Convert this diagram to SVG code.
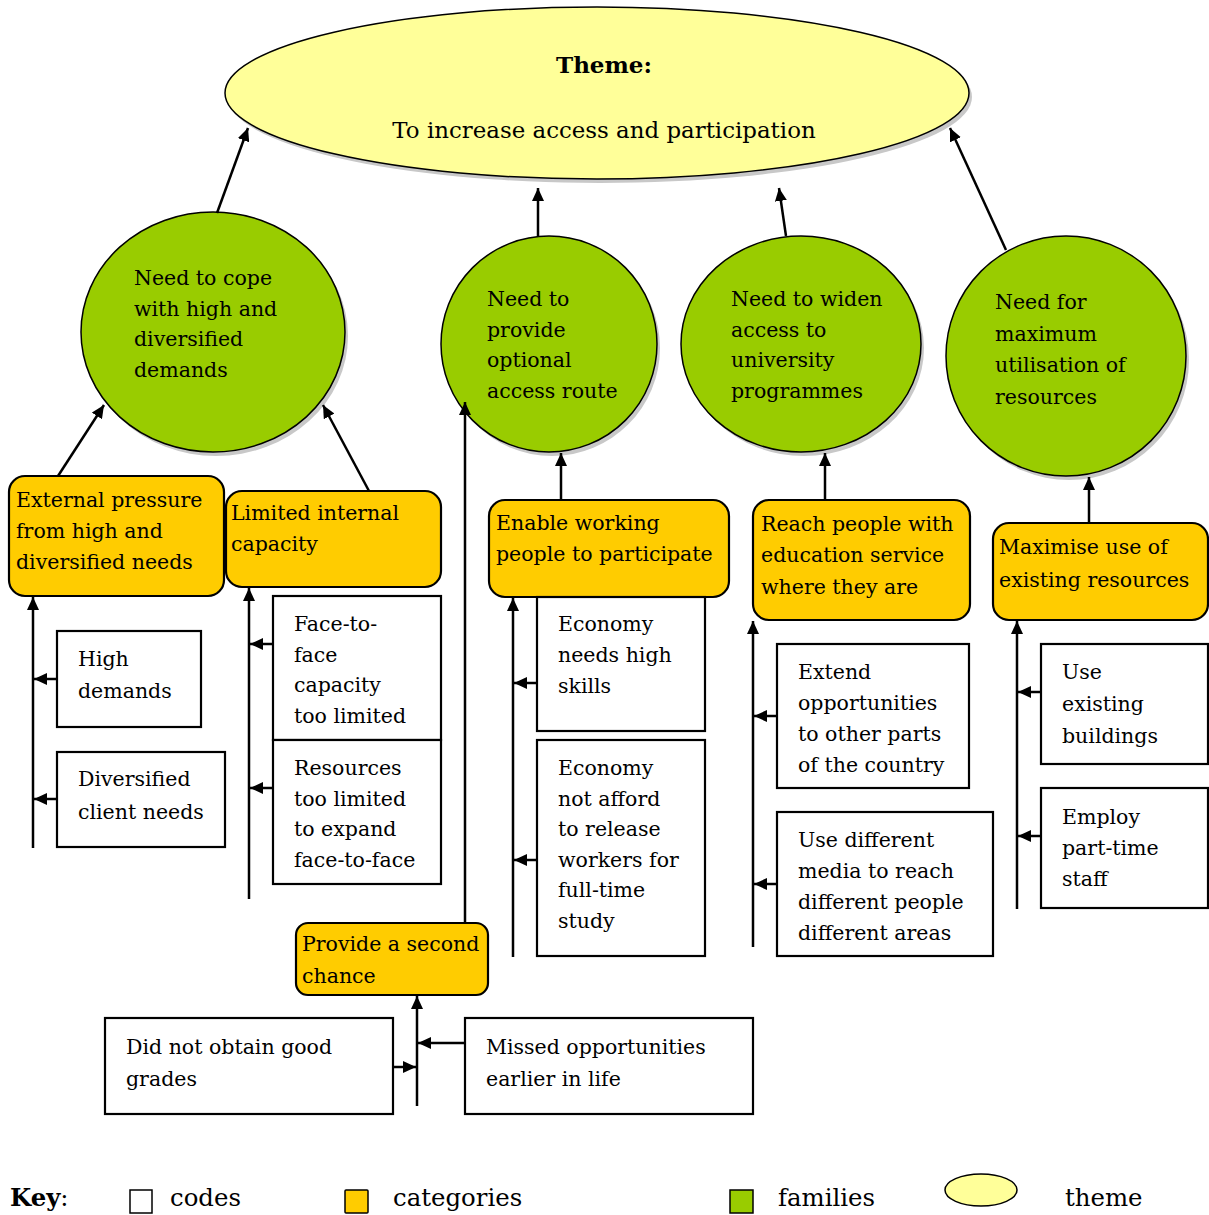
<svg xmlns="http://www.w3.org/2000/svg" width="1209" height="1215" viewBox="0 0 1209 1215">
  <defs>
    <marker id="arrow" markerWidth="13" markerHeight="12" refX="13" refY="6" orient="auto" markerUnits="userSpaceOnUse">
      <path d="M0,0 L13,6 L0,12 z" fill="#000"/>
    </marker>
    <style>
      text { font-family: "DejaVu Serif", "Liberation Serif", serif; font-size: 20.5px; fill: #000; }
      .theme { fill: #FFFF99; stroke: #000; stroke-width: 1.5; }
      .family { fill: #99CC00; stroke: #000; stroke-width: 1.5; }
      .shadow { fill: #C8C8C8; stroke: none; }
      .category { fill: #FFCC00; stroke: #000; stroke-width: 2.2; }
      .code { fill: #FFFFFF; stroke: #000; stroke-width: 2.2; }
      .link { stroke: #000; stroke-width: 2.5; fill: none; marker-end: url(#arrow); }
      .key { font-size: 24.4px; }
    </style>
  </defs>

  <rect width="1209" height="1215" fill="#FFFFFF"/>

  <!-- theme -->
  <g id="theme">
    <ellipse class="shadow" cx="600" cy="97" rx="372" ry="86"/>
    <ellipse class="theme" cx="597" cy="93" rx="372" ry="86"/>
    <text x="604" y="73" text-anchor="middle" font-weight="bold" style="font-size:23px">Theme:</text>
    <text x="604" y="138" text-anchor="middle" style="font-size:22.9px">To increase access and participation</text>
  </g>

  <!-- families -->
  <g id="family-cope">
    <ellipse class="shadow" cx="216" cy="336" rx="132" ry="120"/>
    <ellipse class="family" cx="213" cy="332" rx="132" ry="120"/>
    <text x="134" y="285">Need to cope<tspan x="134" dy="30.5">with high and</tspan><tspan x="134" dy="30.5">diversified</tspan><tspan x="134" dy="30.5">demands</tspan></text>
  </g>
  <g id="family-route">
    <ellipse class="shadow" cx="552" cy="348" rx="108" ry="108"/>
    <ellipse class="family" cx="549" cy="344" rx="108" ry="108"/>
    <text x="487" y="306">Need to<tspan x="487" dy="30.5">provide</tspan><tspan x="487" dy="30.5">optional</tspan><tspan x="487" dy="30.5">access route</tspan></text>
  </g>
  <g id="family-widen">
    <ellipse class="shadow" cx="804" cy="348" rx="120" ry="108"/>
    <ellipse class="family" cx="801" cy="344" rx="120" ry="108"/>
    <text x="731" y="306">Need to widen<tspan x="731" dy="30.5">access to</tspan><tspan x="731" dy="30.5">university</tspan><tspan x="731" dy="30.5">programmes</tspan></text>
  </g>
  <g id="family-resources">
    <ellipse class="shadow" cx="1069" cy="360" rx="120" ry="120"/>
    <ellipse class="family" cx="1066" cy="356" rx="120" ry="120"/>
    <text x="995" y="309">Need for<tspan x="995" dy="31.5">maximum</tspan><tspan x="995" dy="31.5">utilisation of</tspan><tspan x="995" dy="32">resources</tspan></text>
  </g>

  <!-- categories -->
  <g id="cat-external">
    <rect class="category" x="9" y="476" width="215" height="120" rx="16"/>
    <text x="16" y="507">External pressure<tspan x="16" dy="31">from high and</tspan><tspan x="16" dy="31">diversified needs</tspan></text>
  </g>
  <g id="cat-internal">
    <rect class="category" x="226" y="491" width="215" height="96" rx="16"/>
    <text x="231" y="520">Limited internal<tspan x="231" dy="31">capacity</tspan></text>
  </g>
  <g id="cat-working">
    <rect class="category" x="489" y="500" width="240" height="97" rx="16"/>
    <text x="496" y="530">Enable working<tspan x="496" dy="30.5">people to participate</tspan></text>
  </g>
  <g id="cat-reach">
    <rect class="category" x="753" y="500" width="217" height="120" rx="16"/>
    <text x="761" y="531">Reach people with<tspan x="761" dy="31">education service</tspan><tspan x="761" dy="32">where they are</tspan></text>
  </g>
  <g id="cat-maximise">
    <rect class="category" x="993" y="523" width="215" height="97" rx="16"/>
    <text x="999" y="554">Maximise use of<tspan x="999" dy="33">existing resources</tspan></text>
  </g>
  <g id="cat-second">
    <rect class="category" x="296" y="923" width="192" height="72" rx="12"/>
    <text x="302" y="951">Provide a second<tspan x="302" dy="32">chance</tspan></text>
  </g>

  <!-- codes -->
  <g id="code-high">
    <rect class="code" x="57" y="631" width="144" height="96"/>
    <text x="78" y="666">High<tspan x="78" dy="32">demands</tspan></text>
  </g>
  <g id="code-diversified">
    <rect class="code" x="57" y="752" width="168" height="95"/>
    <text x="78" y="786">Diversified<tspan x="78" dy="33">client needs</tspan></text>
  </g>
  <g id="code-f2f">
    <rect class="code" x="273" y="596" width="168" height="144"/>
    <text x="294" y="631">Face-to-<tspan x="294" dy="30.5">face</tspan><tspan x="294" dy="30.5">capacity</tspan><tspan x="294" dy="30.5">too limited</tspan></text>
  </g>
  <g id="code-resources">
    <rect class="code" x="273" y="740" width="168" height="144"/>
    <text x="294" y="775">Resources<tspan x="294" dy="30.5">too limited</tspan><tspan x="294" dy="30.5">to expand</tspan><tspan x="294" dy="30.5">face-to-face</tspan></text>
  </g>
  <g id="code-skills">
    <rect class="code" x="537" y="597" width="168" height="134"/>
    <text x="558" y="631">Economy<tspan x="558" dy="31">needs high</tspan><tspan x="558" dy="31">skills</tspan></text>
  </g>
  <g id="code-release">
    <rect class="code" x="537" y="740" width="168" height="216"/>
    <text x="558" y="775">Economy<tspan x="558" dy="30.6">not afford</tspan><tspan x="558" dy="30.6">to release</tspan><tspan x="558" dy="30.6">workers for</tspan><tspan x="558" dy="30.6">full-time</tspan><tspan x="558" dy="30.6">study</tspan></text>
  </g>
  <g id="code-extend">
    <rect class="code" x="777" y="644" width="192" height="144"/>
    <text x="798" y="679">Extend<tspan x="798" dy="31">opportunities</tspan><tspan x="798" dy="31">to other parts</tspan><tspan x="798" dy="31">of the country</tspan></text>
  </g>
  <g id="code-media">
    <rect class="code" x="777" y="812" width="216" height="144"/>
    <text x="798" y="847">Use different<tspan x="798" dy="31">media to reach</tspan><tspan x="798" dy="31">different people</tspan><tspan x="798" dy="30.5">different areas</tspan></text>
  </g>
  <g id="code-buildings">
    <rect class="code" x="1041" y="644" width="167" height="120"/>
    <text x="1062" y="679">Use<tspan x="1062" dy="32">existing</tspan><tspan x="1062" dy="32">buildings</tspan></text>
  </g>
  <g id="code-staff">
    <rect class="code" x="1041" y="788" width="167" height="120"/>
    <text x="1062" y="824">Employ<tspan x="1062" dy="31">part-time</tspan><tspan x="1062" dy="31">staff</tspan></text>
  </g>
  <g id="code-grades">
    <rect class="code" x="105" y="1018" width="288" height="96"/>
    <text x="126" y="1054">Did not obtain good<tspan x="126" dy="32">grades</tspan></text>
  </g>
  <g id="code-missed">
    <rect class="code" x="465" y="1018" width="288" height="96"/>
    <text x="486" y="1054">Missed opportunities<tspan x="486" dy="32">earlier in life</tspan></text>
  </g>

  <!-- connectors -->
  <g id="connectors">
    <!-- families to theme -->
    <line class="link" x1="217" y1="213" x2="248" y2="128"/>
    <line class="link" x1="538" y1="236" x2="538" y2="188"/>
    <line class="link" x1="786" y1="236" x2="779" y2="188"/>
    <line class="link" x1="1006" y1="250" x2="950" y2="128"/>
    <!-- categories to families -->
    <line class="link" x1="58" y1="476" x2="104" y2="405"/>
    <line class="link" x1="369" y1="491" x2="323" y2="405"/>
    <line class="link" x1="561" y1="500" x2="561" y2="453"/>
    <line class="link" x1="825" y1="500" x2="825" y2="453"/>
    <line class="link" x1="1089" y1="523" x2="1089" y2="477"/>
    <line class="link" x1="465" y1="923" x2="465" y2="402"/>
    <!-- code trunks -->
    <line class="link" x1="33" y1="848" x2="33" y2="597"/>
    <line class="link" x1="249" y1="899" x2="249" y2="588"/>
    <line class="link" x1="513" y1="957" x2="513" y2="598"/>
    <line class="link" x1="753" y1="947" x2="753" y2="621"/>
    <line class="link" x1="1017" y1="909" x2="1017" y2="621"/>
    <line class="link" x1="417" y1="1106" x2="417" y2="996"/>
    <!-- codes into trunks -->
    <line class="link" x1="57" y1="679" x2="34" y2="679"/>
    <line class="link" x1="57" y1="799" x2="34" y2="799"/>
    <line class="link" x1="273" y1="644" x2="250" y2="644"/>
    <line class="link" x1="273" y1="788" x2="250" y2="788"/>
    <line class="link" x1="537" y1="683" x2="514" y2="683"/>
    <line class="link" x1="537" y1="860" x2="514" y2="860"/>
    <line class="link" x1="777" y1="716" x2="754" y2="716"/>
    <line class="link" x1="777" y1="884" x2="754" y2="884"/>
    <line class="link" x1="1041" y1="692" x2="1018" y2="692"/>
    <line class="link" x1="1041" y1="836" x2="1018" y2="836"/>
    <line class="link" x1="465" y1="1043" x2="418" y2="1043"/>
    <line class="link" x1="393" y1="1067" x2="416" y2="1067"/>
  </g>

  <!-- key -->
  <g id="key">
    <text class="key" x="10" y="1206"><tspan font-weight="bold">Key</tspan>:</text>
    <rect class="code" x="130" y="1190" width="22" height="23" style="stroke-width:1.5"/>
    <text class="key" x="170" y="1206">codes</text>
    <rect class="category" x="345" y="1190" width="23" height="23" rx="1" style="stroke-width:1.5"/>
    <text class="key" x="393" y="1206">categories</text>
    <rect class="family" x="730" y="1190" width="23" height="23"/>
    <text class="key" x="778" y="1206">families</text>
    <ellipse class="theme" cx="981" cy="1190" rx="36" ry="16"/>
    <text class="key" x="1065" y="1206">theme</text>
  </g>
</svg>
